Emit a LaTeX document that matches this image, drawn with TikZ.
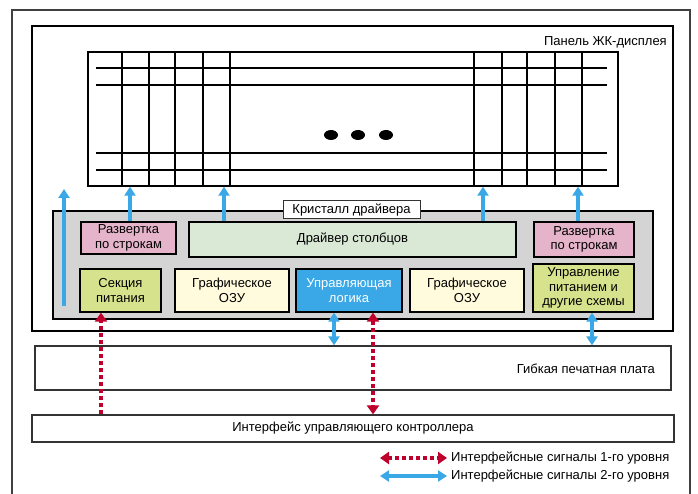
\documentclass[tikz,border=0pt]{standalone}
\usepackage{fontspec}
\setmainfont{Liberation Sans}
\usetikzlibrary{arrows.meta}
\definecolor{chipgray}{RGB}{212,212,212}
\definecolor{scanpink}{RGB}{230,180,202}
\definecolor{drvgreen}{RGB}{218,232,214}
\definecolor{pwrgreen}{RGB}{214,226,140}
\definecolor{ramyellow}{RGB}{255,251,220}
\definecolor{logicblue}{RGB}{58,167,230}
\definecolor{sigred}{RGB}{192,0,44}
\tikzset{
    frame/.style={draw=black!75,line width=1.3pt},
    panelbox/.style={draw=black,line width=2.6pt},
    chipbox/.style={draw=black,line width=2.6pt,fill=chipgray},
    block/.style={draw=black,line width=1.3pt,inner sep=0pt,align=center},
    plainbox/.style={draw=black!80,line width=1.3pt,inner sep=0pt,fill=white},
    grid/.style={black,line width=1.4pt},
    sigtwo/.style={logicblue,line width=3.8pt,arrows={-Triangle[length=9pt,width=11pt]}},
    sigtwoboth/.style={sigtwo,arrows={Triangle[length=9pt,width=11pt]-Triangle[length=9pt,width=11pt]}},
    sigone/.style={sigred,line width=3.8pt,dash pattern=on 4pt off 3pt,arrows={-Triangle[length=9pt,width=12pt]}},
    sigoneboth/.style={sigone,arrows={Triangle[length=9pt,width=12pt]-Triangle[length=9pt,width=12pt]}}
}

\begin{document}
\begin{tikzpicture}[x=1pt,y=-1pt,font=\fontsize{13}{14.5}\selectfont]
\useasboundingbox (0,0) rectangle (698,494);
% outer frame, cut at the bottom
\draw[frame] (12,494)--(12,10)--(690,10)--(690,494);

% LCD panel
\node[panelbox,minimum width=641pt,minimum height=305pt] (panel) at (352.5,178.5) {};
\node[anchor=east,inner sep=0pt] (panellabel) at (667,42) {Панель ЖК-дисплея};
\node[draw=black,line width=1.4pt,minimum width=530pt,minimum height=134pt] (mtx) at (353,119) {};
\foreach \y in {68,85,153,170}
    \draw[grid] (96,\y)--(607,\y);
\foreach \x in {122,149,175,203,230,474,502,527,555,582}
    \draw[grid] (\x,52)--(\x,186);
\foreach \x in {331,358,386}
    \fill (\x,135) ellipse (7pt and 5pt);

% driver chip
\node[chipbox,minimum width=600pt,minimum height=108pt] (chip) at (353,265) {};
\node[plainbox,line width=1pt,minimum width=137pt,minimum height=18pt] (chiplabel) at (351.5,210) {Кристалл драйвера};
\node[block,fill=scanpink,minimum width=95pt,minimum height=32pt] (scanL) at (128.5,238) {Развертка\\по строкам};
\node[block,fill=drvgreen,minimum width=327pt,minimum height=35pt] (coldrv) at (352.5,239.5) {Драйвер столбцов};
\node[block,fill=scanpink,minimum width=100pt,minimum height=35pt] (scanR) at (584,239.5) {Развертка\\по строкам};
\node[block,fill=pwrgreen,minimum width=81pt,minimum height=43pt] (power) at (120.5,290.5) {Секция\\питания};
\node[block,fill=ramyellow,minimum width=114pt,minimum height=43pt] (ramL) at (232,290.5) {Графическое\\ОЗУ};
\node[block,fill=logicblue,text=white,minimum width=106pt,minimum height=43pt] (logic) at (349,290.5) {Управляющая\\логика};
\node[block,fill=ramyellow,minimum width=114pt,minimum height=43pt] (ramR) at (467,290.5) {Графическое\\ОЗУ};
\node[block,fill=pwrgreen,minimum width=101pt,minimum height=48pt] (pwrctl) at (583.5,288) {Управление\\питанием и\\другие схемы};

% flex PCB and controller interface
\node[plainbox,minimum width=636pt,minimum height=44pt] (flex) at (353,368) {};
\node[anchor=east,inner sep=0pt] (flexlabel) at (655,369) {Гибкая печатная плата};
\node[plainbox,minimum width=642pt,minimum height=27pt] (iface) at (353,428.5) {Интерфейс управляющего контроллера};

% level-2 signals
\coordinate (vin) at (64,306);
\coordinate (vout) at (64,189);
\draw[sigtwo] (vin)--(vout);
\draw[sigtwo] ([xshift=1.5pt]scanL.north)--([xshift=1.5pt]scanL.north |- mtx.south);
\draw[sigtwo] ([xshift=-128.5pt]coldrv.north)--([xshift=-128.5pt]coldrv.north |- mtx.south);
\draw[sigtwo] ([xshift=130.5pt]coldrv.north)--([xshift=130.5pt]coldrv.north |- mtx.south);
\draw[sigtwo] ([xshift=-6pt]scanR.north)--([xshift=-6pt]scanR.north |- mtx.south);
\draw[sigtwoboth] ([xshift=-15pt]logic.south)--([xshift=-15pt]logic.south |- flex.north);
\draw[sigtwoboth] ([xshift=8.5pt]pwrctl.south)--([xshift=8.5pt]pwrctl.south |- flex.north);

% level-1 signals
\draw[sigone] ([xshift=-19.5pt]power.south |- iface.north)--([xshift=-19.5pt]power.south);
\draw[sigoneboth] ([xshift=24pt]logic.south)--([xshift=24pt]logic.south |- iface.north);

% legend
\coordinate (l1a) at (380,458);
\coordinate (l1b) at (447,458);
\coordinate (l2a) at (380,476);
\coordinate (l2b) at (447,476);
\draw[sigoneboth] (l1a)--(l1b);
\draw[sigtwoboth] (l2a)--(l2b);
\node[anchor=west,inner sep=0pt] (leg1) at (451,458) {Интерфейсные сигналы 1-го уровня};
\node[anchor=west,inner sep=0pt] (leg2) at (451,476) {Интерфейсные сигналы 2-го уровня};
\end{tikzpicture}
\end{document}
